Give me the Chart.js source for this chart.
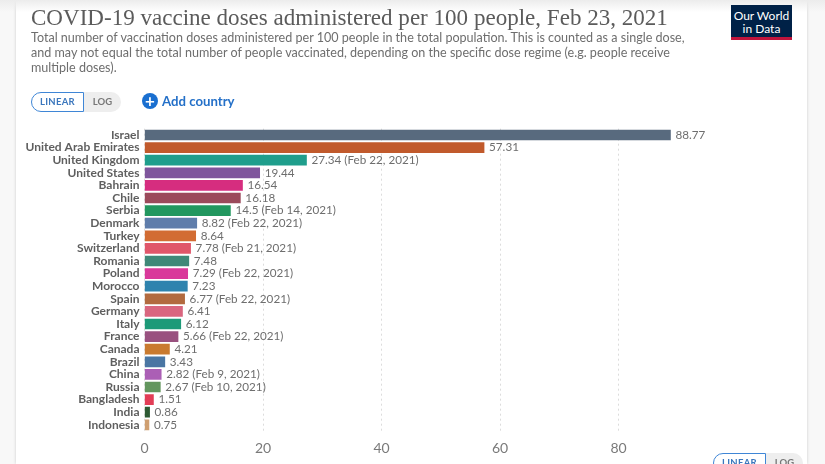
<!DOCTYPE html>
<html>
<head>
<meta charset="utf-8">
<script src="https://cdn.jsdelivr.net/npm/chart.js@4"></script>
<style>
  html, body { margin: 0; width: 825px; height: 464px; overflow: hidden; background: #f8f8f8; font-family: Lato, sans-serif; }
  .card { position: absolute; left: 16px; top: 0; width: 791px; height: 464px; background: #fff; box-shadow: 0 0 3px rgba(0,0,0,.18); }
  .shade { position: absolute; left: 0; top: 0; width: 825px; height: 12px; background: linear-gradient(#ececec, rgba(255,255,255,0)); }
  canvas { position: absolute; left: 0; top: 0; }
  h1 { position: absolute; left: 31px; top: 4px; margin: 0; font: 400 23.05px "Liberation Serif", serif; color: #5b5b5b; white-space: nowrap; }
  .sub { position: absolute; left: 31px; top: 30px; width: 690px; font-size: 12.57px; line-height: 15px; color: #6e6e6e; }
  .logo { position: absolute; left: 731px; top: 5px; width: 61px; height: 35px; background: #002147; border-bottom: 3px solid #c0143c; box-sizing: border-box; color: #fff; font-size: 12px; line-height: 13px; text-align: center; padding-top: 4px; }
  .toggle { position: absolute; display: flex; height: 20px; font-size: 9.5px; font-weight: 700; line-height: 18px; box-sizing: border-box; }
  .toggle .on { width: 53px; border: 1px solid #3f86d6; border-radius: 10px 0 0 10px; color: #3b77bd; text-align: center; box-sizing: border-box; letter-spacing: .3px; }
  .toggle .off { width: 37px; background: #eee; border-radius: 0 10px 10px 0; color: #777; text-align: center; line-height: 20px; }
  .add { position: absolute; left: 142px; top: 93px; color: #2470c8; font-size: 13.2px; font-weight: 700; line-height: 16px; display: flex; align-items: center; gap: 4px; }
  .add i { display: block; width: 16px; height: 16px; border-radius: 50%; background: #1a6fd0; color: #fff; font: 700 17px/15px Lato, sans-serif; text-align: center; }
</style>
</head>
<body>
<div class="card"></div>
<div class="shade"></div>
<canvas id="dosesChart" width="825" height="464"></canvas>
<h1>COVID-19 vaccine doses administered per 100 people, Feb 23, 2021</h1>
<div class="sub">Total number of vaccination doses administered per 100 people in the total population. This is counted as a single dose,<br>and may not equal the total number of people vaccinated, depending on the specific dose regime (e.g. people receive<br>multiple doses).</div>
<div class="logo">Our World<br>in Data</div>
<div class="toggle" style="left:31px;top:92px"><div class="on">LINEAR</div><div class="off">LOG</div></div>
<div class="add"><i>+</i>Add country</div>
<div class="toggle" style="left:713px;top:453px"><div class="on">LINEAR</div><div class="off">LOG</div></div>
<script>
// Chart data
const countries = ['Israel', 'United Arab Emirates', 'United Kingdom', 'United States', 'Bahrain', 'Chile', 'Serbia', 'Denmark', 'Turkey', 'Switzerland', 'Romania', 'Poland', 'Morocco', 'Spain', 'Germany', 'Italy', 'France', 'Canada', 'Brazil', 'China', 'Russia', 'Bangladesh', 'India', 'Indonesia'];
const doses = [88.77, 57.31, 27.34, 19.44, 16.54, 16.18, 14.5, 8.82, 8.64, 7.78, 7.48, 7.29, 7.23, 6.77, 6.41, 6.12, 5.66, 4.21, 3.43, 2.82, 2.67, 1.51, 0.86, 0.75];
const dateNotes = ['', '', 'Feb 22, 2021', '', '', '', 'Feb 14, 2021', 'Feb 22, 2021', '', 'Feb 21, 2021', '', 'Feb 22, 2021', '', 'Feb 22, 2021', '', '', 'Feb 22, 2021', '', '', 'Feb 9, 2021', 'Feb 10, 2021', '', '', ''];
const barColors = ['#586a7e', '#c15a2c', '#1f9e8c', '#7f559c', '#d62d7f', '#9b4a5b', '#22975f', '#5f7dab', '#d26c33', '#e0566a', '#3f8878', '#d9389a', '#2f83ae', '#b26a3f', '#d9667f', '#1d9a78', '#99517f', '#c97a2f', '#4a76a3', '#ab5fb5', '#63965e', '#e23d56', '#2d5a33', '#cf9f70'];
const xTicks = [0, 20, 40, 60, 80];

// Value labels at the end of each bar
const valueLabels = {
  id: 'valueLabels',
  afterDatasetsDraw(chart) {
    const ctx = chart.ctx;
    ctx.save();
    ctx.font = '11.7px Lato';
    ctx.fillStyle = '#6e6e6e';
    ctx.textBaseline = 'middle';
    chart.getDatasetMeta(0).data.forEach((bar, i) => {
      const note = dateNotes[i] ? ' (' + dateNotes[i] + ')' : '';
      ctx.fillText(doses[i] + note, bar.x + 5, bar.y);
    });
    ctx.restore();
  }
};

new Chart(document.getElementById('dosesChart'), {
  type: 'bar',
  data: {
    labels: countries,
    datasets: [{
      data: doses,
      backgroundColor: barColors,
      barThickness: 10
    }]
  },
  plugins: [valueLabels],
  options: {
    indexAxis: 'y',
    responsive: false,
    animation: false,
    layout: { padding: { top: 128.7, right: 147.25, left: 0, bottom: 0 } },
    plugins: { legend: { display: false }, tooltip: { enabled: false } },
    scales: {
      x: {
        min: 0,
        max: 90,
        afterBuildTicks: scale => { scale.ticks = xTicks.map(value => ({ value })); },
        afterFit: scale => { scale.height = 32.9; },
        grid: { color: '#dcdcdc', drawTicks: false },
        border: { display: false, dash: [2, 3] },
        ticks: { padding: 9, color: '#7a7a7a', font: { family: 'Lato', size: 14 }, maxRotation: 0 }
      },
      y: {
        afterFit: scale => { scale.width = 144.5; },
        grid: { display: false, drawTicks: false },
        border: { display: false },
        ticks: { autoSkip: false, padding: 5, color: '#5f5f5f', font: { family: 'Lato', size: 12, weight: 'bold' } }
      }
    }
  }
});
</script>
</body>
</html>
